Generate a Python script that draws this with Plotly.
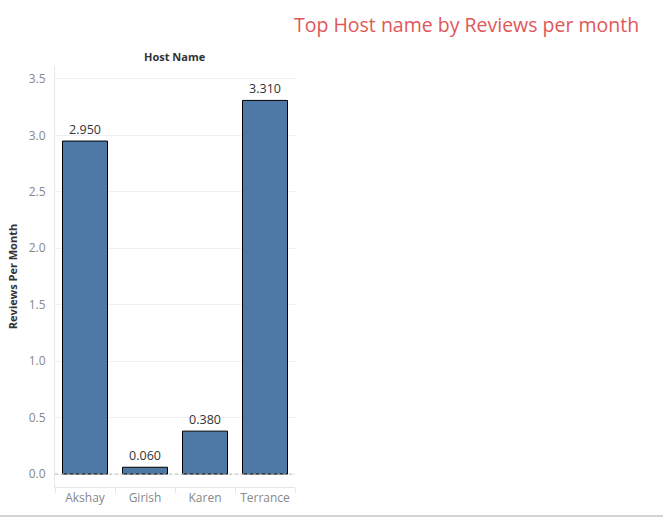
import plotly.graph_objects as go

hosts = ["Akshay", "Girish", "Karen", "Terrance"]
reviews_per_month = [2.95, 0.06, 0.38, 3.31]
y_ticks = [0.0, 0.5, 1.0, 1.5, 2.0, 2.5, 3.0, 3.5]
y_tick_labels = ["0.0", "0.5", "1.0", "1.5", "2.0", "2.5", "3.0", "3.5"]

W, H = 663, 517
L, R, T, B = 55, 368, 66, 30

fig = go.Figure(go.Bar(
    x=hosts, y=reviews_per_month,
    marker=dict(color="#4e79a7", line=dict(color="#000000", width=1)),
    text=[f"{v:.3f}" for v in reviews_per_month],
    textposition="outside", cliponaxis=False,
    textfont=dict(family="Open Sans", size=12.5, color="#333333"),
))

fig.update_layout(
    width=W, height=H,
    margin=dict(l=L, r=R, t=T, b=B, autoexpand=False),
    paper_bgcolor="white", plot_bgcolor="white",
    bargap=0.25, showlegend=False,
    font=dict(family="Open Sans"),
    xaxis=dict(
        showgrid=False, showline=True, linecolor="#e6e6e6", linewidth=1,
        ticks="outside", tickson="boundaries", ticklen=5, tickcolor="#e6e6e6",
        tickangle=0, automargin=False,
        tickfont=dict(size=12, color="#888888"),
    ),
    yaxis=dict(
        range=[-0.115, 3.615], tickvals=y_ticks, ticktext=y_tick_labels,
        showgrid=True, gridcolor="#f0f0f0", zeroline=False, automargin=False,
        showline=True, linecolor="#e6e6e6", ticks="", ticklabelstandoff=6,
        tickfont=dict(size=12, color="#888888"),
        title=dict(text="<b>Reviews Per Month</b>", standoff=8,
                   font=dict(size=11, color="#333333")),
    ),
    annotations=[
        dict(text="<b>Host Name</b>", xref="paper", yref="paper", x=0.5, y=1.0,
             yshift=0, yanchor="bottom", showarrow=False,
             font=dict(size=11, color="#333333", family="Open Sans")),
        dict(text="Top Host name by Reviews per month", xref="paper", yref="paper",
             x=(292 - L) / (W - L - R), y=1.0, yshift=T - 24,
             xanchor="left", yanchor="middle", showarrow=False,
             font=dict(size=19.5, color="#e15759", family="Open Sans", weight=500)),
    ],
    shapes=[
        dict(type="line", xref="paper", yref="y", x0=0, x1=1, y0=0, y1=0,
             line=dict(color="#bbbbbb", width=1, dash="dot")),
        dict(type="line", xref="paper", yref="paper", x0=-L / (W - L - R),
             x1=(W - L) / (W - L - R), y0=-(B - 1) / (H - T - B), y1=-(B - 1) / (H - T - B),
             line=dict(color="#d4d4d4", width=2)),
    ],
)

fig.write_html("out.html")
